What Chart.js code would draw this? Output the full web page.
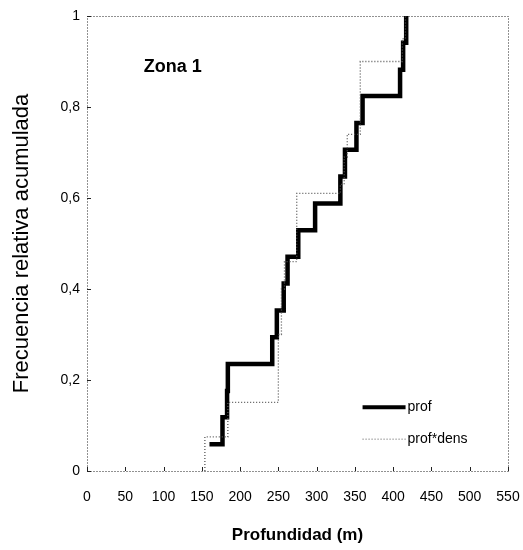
<!DOCTYPE html>
<html>
<head>
<meta charset="utf-8">
<script src="https://cdn.jsdelivr.net/npm/chart.js@4/dist/chart.umd.min.js"></script>
<style>
  html, body { margin: 0; padding: 0; background: #fff; }
  #wrap { width: 523px; height: 550px; }
</style>
</head>
<body>
<div id="wrap"><canvas id="chart" width="523" height="550"></canvas></div>
<script>
// tick labels
const xTicks = [0, 50, 100, 150, 200, 250, 300, 350, 400, 450, 500, 550];
const yTicks = [0, 0.2, 0.4, 0.6, 0.8, 1];

// prof: depth (m) and cumulative relative frequency
const profDepth = [160, 177, 183, 184, 242, 248, 257, 262, 276, 298, 331, 337, 352, 360, 409, 413, 417];
const profFreq  = [0.059, 0.118, 0.176, 0.235, 0.294, 0.353, 0.412, 0.471, 0.529, 0.588, 0.647, 0.706, 0.765, 0.824, 0.882, 0.941, 1];

// prof*dens
const densDepth = [154, 154, 184, 250, 254, 258, 274, 331, 336, 340, 357, 412, 416];
const densFreq  = [0, 0.075, 0.151, 0.30, 0.40, 0.46, 0.61, 0.63, 0.69, 0.74, 0.90, 0.95, 1];

const seriesNames = ["prof", "prof*dens"];
const zoneLabel = "Zona 1";

const FONT = "'Liberation Sans', Arial, sans-serif";

function toPoints(xs, ys) {
    return xs.map((x, i) => ({ x: x, y: ys[i] }));
}

// dotted frame, inside ticks, zone label and legend
const decorPlugin = {
    id: "decor",
    afterDatasetsDraw(chart) {
        const ctx = chart.ctx;
        const a = chart.chartArea;
        const xs = chart.scales.x, ys = chart.scales.y;
        ctx.save();
        ctx.strokeStyle = "#222";
        ctx.lineWidth = 1;
        ctx.setLineDash([1, 2]);
        ctx.beginPath();
        ctx.rect(a.left + 0.5, a.top + 0.5, a.right - a.left, a.bottom - a.top);
        ctx.stroke();
        ctx.setLineDash([]);
        ctx.beginPath();
        xTicks.forEach(v => {
            const px = Math.round(xs.getPixelForValue(v)) + 0.5;
            ctx.moveTo(px, a.bottom);
            ctx.lineTo(px, a.bottom - 4);
        });
        yTicks.forEach(v => {
            const py = Math.round(ys.getPixelForValue(v)) + 0.5;
            ctx.moveTo(a.left, py);
            ctx.lineTo(a.left + 4, py);
        });
        ctx.stroke();

        // zone label
        ctx.fillStyle = "#000";
        ctx.font = "bold 18px " + FONT;
        ctx.textBaseline = "middle";
        ctx.textAlign = "left";
        ctx.fillText(zoneLabel, xs.getPixelForValue(74), ys.getPixelForValue(0.888));

        // legend
        const lx = xs.getPixelForValue(360), lw = 43;
        const l1 = ys.getPixelForValue(0.14), l2 = ys.getPixelForValue(0.07);
        ctx.font = "14px " + FONT;
        ctx.strokeStyle = "#000";
        ctx.lineWidth = 4;
        ctx.beginPath();
        ctx.moveTo(lx, l1);
        ctx.lineTo(lx + lw, l1);
        ctx.stroke();
        ctx.fillText(seriesNames[0], lx + lw + 2, l1);
        ctx.strokeStyle = "#555";
        ctx.lineWidth = 1;
        ctx.setLineDash([1, 2]);
        ctx.beginPath();
        ctx.moveTo(lx, l2);
        ctx.lineTo(lx + lw, l2);
        ctx.stroke();
        ctx.setLineDash([]);
        ctx.fillText(seriesNames[1], lx + lw + 2, l2);
        ctx.restore();
    }
};

new Chart(document.getElementById("chart"), {
    type: "line",
    data: {
        datasets: [
            {
                label: seriesNames[1],
                data: toPoints(densDepth, densFreq),
                borderColor: "#555",
                borderWidth: 1.3,
                borderDash: [1, 2],
                stepped: "before",
                pointRadius: 0,
                fill: false
            },
            {
                label: seriesNames[0],
                data: toPoints(profDepth, profFreq),
                borderColor: "#000",
                borderWidth: 4.5,
                stepped: "before",
                pointRadius: 0,
                fill: false
            }
        ]
    },
    options: {
        responsive: false,
        animation: false,
        layout: { padding: { left: 0, right: 0, top: 16, bottom: 0 } },
        plugins: {
            legend: { display: false },
            tooltip: { enabled: false }
        },
        scales: {
            x: {
                type: "linear",
                min: 0,
                max: 550,
                afterBuildTicks: s => { s.ticks = xTicks.map(v => ({ value: v })); },
                afterFit: s => { s.height = 79; s.paddingRight = 15; },
                grid: { display: false, drawTicks: false },
                border: { display: false },
                ticks: { color: "#000", padding: 18, font: { family: FONT, size: 14 } },
                title: {
                    display: true,
                    text: "Profundidad (m)",
                    color: "#000",
                    padding: { top: 0, bottom: 4 },
                    font: { family: FONT, size: 17, weight: "bold" }
                }
            },
            y: {
                type: "linear",
                min: 0,
                max: 1,
                afterBuildTicks: s => { s.ticks = yTicks.map(v => ({ value: v })); },
                afterFit: s => { s.width = 87; },
                grid: { display: false, drawTicks: false },
                border: { display: false },
                ticks: {
                    color: "#000",
                    padding: 7,
                    font: { family: FONT, size: 14 },
                    callback: v => String(v).replace(".", ",")
                },
                title: {
                    display: true,
                    text: "Frecuencia relativa acumulada",
                    color: "#000",
                    padding: { top: 9, bottom: 0 },
                    font: { family: FONT, size: 22 }
                }
            }
        }
    },
    plugins: [decorPlugin]
});
</script>
</body>
</html>
